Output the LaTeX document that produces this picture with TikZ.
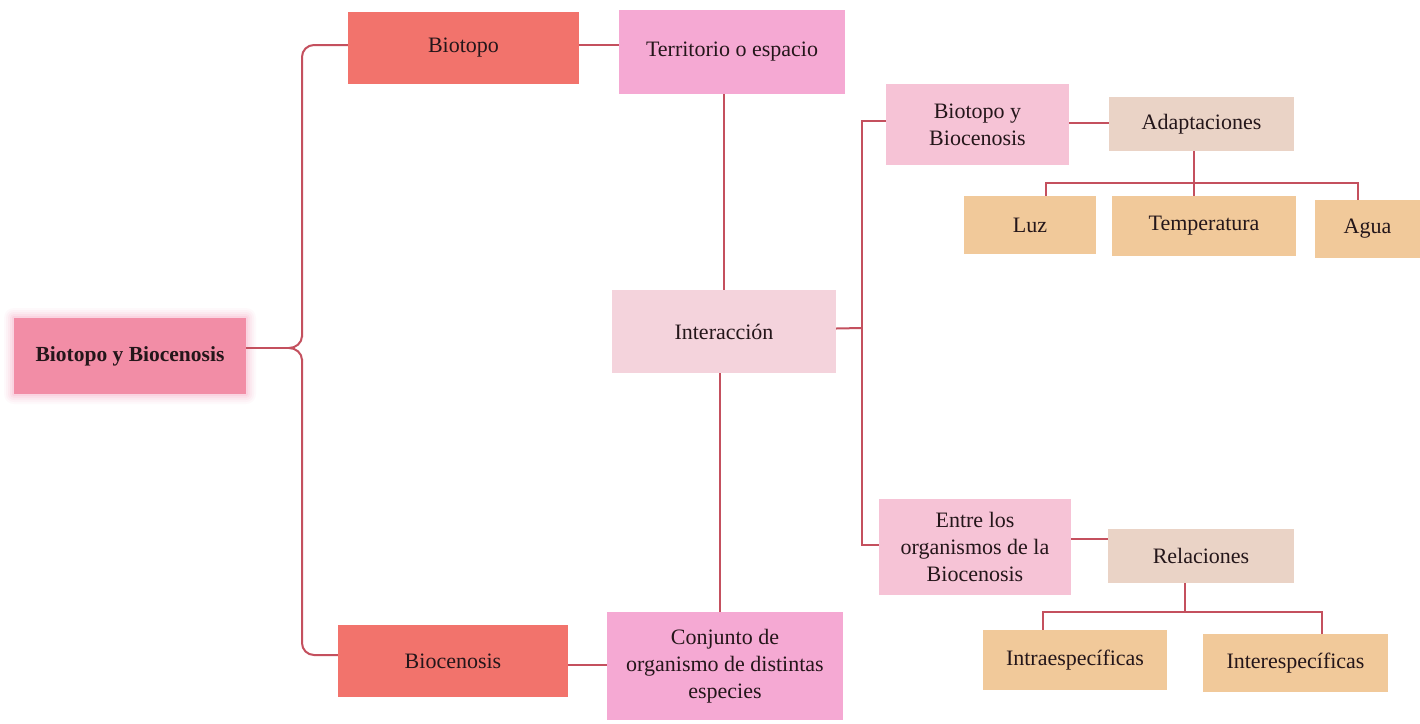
\documentclass[tikz,border=0pt]{standalone}
\usepackage{fontspec}
\setmainfont{Liberation Serif}
\definecolor{cRoot}{HTML}{F28DA6}
\definecolor{cGlow}{HTML}{F7A8C4}
\definecolor{cSalmon}{HTML}{F2736C}
\definecolor{cPink}{HTML}{F5A9D3}
\definecolor{cPale}{HTML}{F4D3DC}
\definecolor{cRose}{HTML}{F6C3D6}
\definecolor{cBeige}{HTML}{EAD3C6}
\definecolor{cTan}{HTML}{F1C99A}
\definecolor{cLink}{HTML}{C4505E}
\definecolor{ink}{HTML}{24161A}
\tikzset{
  base/.style={rectangle, inner sep=2pt, align=center, text=ink,
    font=\fontsize{22}{27}\selectfont},
  rootbox/.style={base, fill=cRoot, font=\fontsize{21.5}{26}\selectfont\bfseries},
  salmonbox/.style={base, fill=cSalmon},
  pinkbox/.style={base, fill=cPink},
  palebox/.style={base, fill=cPale},
  rosebox/.style={base, fill=cRose},
  beigebox/.style={base, fill=cBeige},
  tanbox/.style={base, fill=cTan},
  link/.style={draw=cLink, line width=2pt},
}
\begin{document}
\begin{tikzpicture}[x=1pt,y=-1pt]
\useasboundingbox[fill=white] (0,0) rectangle (1420,723);

% soft halo behind the main topic
\foreach \d/\o in {10/0.06,8/0.08,6/0.10,4/0.14,2/0.20}
  \fill[cGlow, opacity=\o, rounded corners=\d pt] (14-\d,318-\d) rectangle (246+\d,394+\d);

% left column
\node[rootbox, minimum width=232pt, minimum height=76pt] (root) at (130,356) {Biotopo y Biocenosis};
\node[salmonbox, minimum width=231pt, minimum height=72pt] (biotopo) at (463.5,48) {Biotopo};
\node[salmonbox, minimum width=230pt, minimum height=72pt] (biocen) at (453,661) {Biocenosis};

% middle column
\node[pinkbox, minimum width=226pt, minimum height=84pt] (terr) at (732,52) {Territorio o espacio};
\node[palebox, minimum width=224pt, minimum height=83pt] (inter) at (724,331.5) {Interacción};
\node[pinkbox, minimum width=236pt, minimum height=108pt] (conj) at (725,666) {Conjunto de\\organismo de distintas\\especies};

% right column
\node[rosebox, minimum width=183pt, minimum height=81pt] (bb) at (977.5,124.5) {Biotopo y\\Biocenosis};
\node[beigebox, minimum width=185pt, minimum height=54pt] (adapt) at (1201.5,124) {Adaptaciones};
\node[tanbox, minimum width=132pt, minimum height=58pt] (luz) at (1030,225) {Luz};
\node[tanbox, minimum width=184pt, minimum height=60pt] (temp) at (1204,226) {Temperatura};
\node[tanbox, minimum width=105pt, minimum height=58pt] (agua) at (1367.5,229) {Agua};

\node[rosebox, minimum width=192pt, minimum height=96pt] (entre) at (975,547) {Entre los\\organismos de la\\Biocenosis};
\node[beigebox, minimum width=186pt, minimum height=54pt] (rel) at (1201,556) {Relaciones};
\node[tanbox, minimum width=184pt, minimum height=60pt] (intra) at (1075,660) {Intraespecíficas};
\node[tanbox, minimum width=185pt, minimum height=58pt] (inter2) at (1295.5,663) {Interespecíficas};

% brace from the main topic
\coordinate (tip) at (289,348);
\draw[link] ([yshift=8pt]root.east) -- (tip);
\draw[link] (tip) to[out=0,in=-90] (302,336);
\draw[link] (tip) to[out=0,in=90] (302,360);
\draw[link, rounded corners=12pt] (302,337) |- ([yshift=3pt]biotopo.west);
\draw[link, rounded corners=12pt] (302,359) |- ([yshift=6pt]biocen.west);

% horizontal and vertical links
\draw[link] ([yshift=3pt]biotopo.east) -- ([yshift=3pt]biotopo.east -| terr.west);
\draw[link] ([yshift=-4pt]biocen.east) -- ([yshift=-4pt]biocen.east -| conj.west);
\draw[link] (inter.north) -- (inter.north |- terr.south);
\draw[link] ([xshift=-4pt]inter.south) -- ([xshift=-4pt]inter.south |- conj.north);

% interaction branches
\coordinate (fork) at (862,328);
\draw[link] ([yshift=3pt]inter.east) -- (fork);
\draw[link] ([yshift=4pt]bb.west) -| (fork) |- ([yshift=2pt]entre.west);

% adaptations
\draw[link] ([yshift=2pt]bb.east) -- ([yshift=2pt]bb.east -| adapt.west);
\draw[link] ([xshift=-8pt]adapt.south) -- ++(0,45);
\draw[link] ([xshift=16pt]luz.north) -- ++(0,-13) -| ([xshift=-10pt]agua.north);

% relations
\draw[link] ([yshift=8pt]entre.east) -- ([yshift=8pt]entre.east -| rel.west);
\draw[link] ([xshift=-16pt]rel.south) -- ++(0,29);
\draw[link] ([xshift=-32pt]intra.north) -- ++(0,-18) -| ([xshift=26.5pt]inter2.north);
\end{tikzpicture}
\end{document}
